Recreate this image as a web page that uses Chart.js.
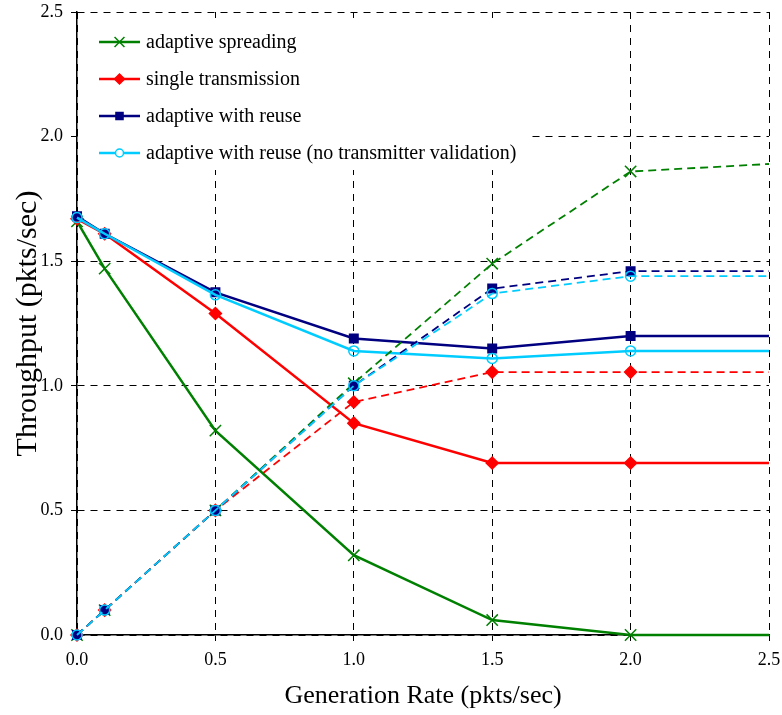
<!DOCTYPE html>
<html>
<head>
<meta charset="utf-8">
<title>Throughput vs generation rate</title>
<script src="https://cdn.jsdelivr.net/npm/chart.js@4.4.0/dist/chart.umd.min.js"></script>
<style>
    html, body { margin: 0; padding: 0; background: #fff; }
    #wrap { position: relative; width: 782px; height: 715px; }
</style>
</head>
<body>
<div id="wrap"><canvas id="rateChart"></canvas></div>
<script>
// --- data
var rates = [0, 0.1, 0.5, 1.0, 1.5, 2.0, 2.5];
var axisTicks = [0, 0.5, 1.0, 1.5, 2.0, 2.5];

var spreadingSolid = [1.66, 1.47, 0.82, 0.32, 0.06, 0.0, 0.0];
var spreadingDashed = [0.0, 0.1, 0.5, 1.01, 1.49, 1.86, 1.89];
var singleSolid = [1.67, 1.61, 1.29, 0.85, 0.69, 0.69, 0.69];
var singleDashed = [0.0, 0.1, 0.5, 0.935, 1.055, 1.055, 1.055];
var reuseSolid = [1.68, 1.61, 1.375, 1.19, 1.15, 1.20, 1.20];
var reuseDashed = [0.0, 0.1, 0.5, 1.0, 1.39, 1.46, 1.46];
var noValSolid = [1.675, 1.61, 1.365, 1.14, 1.11, 1.14, 1.14];
var noValDashed = [0.0, 0.1, 0.5, 1.0, 1.37, 1.44, 1.44];

var seriesNames = ['adaptive spreading', 'single transmission', 'adaptive with reuse',
    'adaptive with reuse (no transmitter validation)'];

// --- styles
var styles = [
    { color: '#008000', fill: 'rgba(0,0,0,0)', marker: 'crossRot', radius: 8 },
    { color: '#ff0000', fill: '#ff0000', marker: 'rectRot', radius: 6 },
    { color: '#000080', fill: '#000080', marker: 'rect', radius: 6 },
    { color: '#00ccff', fill: 'rgba(0,0,0,0)', marker: 'circle', radius: 5 }
];

Chart.defaults.font.family = '"Liberation Serif", "Times New Roman", serif';
Chart.defaults.color = '#000';

function toPoints(values) {
    return values.map(function (v, i) { return { x: rates[i], y: v }; });
}

function makeSet(name, values, style, dashed) {
    var last = values.length - 1;
    return {
        label: name,
        data: toPoints(values),
        showLine: true,
        tension: 0,
        clip: false,
        borderColor: style.color,
        backgroundColor: style.fill,
        borderWidth: dashed ? 1.8 : 2.5,
        borderDash: dashed ? [8, 5] : [],
        pointStyle: style.marker,
        pointRadius: function (ctx) { return ctx.dataIndex === last ? 0 : style.radius; },
        pointHoverRadius: style.radius,
        pointBorderColor: style.color,
        pointBackgroundColor: style.fill,
        pointBorderWidth: 1.5
    };
}

// dataset 0 is drawn on top, so the list goes top -> bottom
var datasets = [
    makeSet(seriesNames[3], noValDashed, styles[3], true),
    makeSet(seriesNames[2], reuseDashed, styles[2], true),
    makeSet(seriesNames[1], singleDashed, styles[1], true),
    makeSet(seriesNames[0], spreadingDashed, styles[0], true),
    makeSet(seriesNames[3], noValSolid, styles[3], false),
    makeSet(seriesNames[2], reuseSolid, styles[2], false),
    makeSet(seriesNames[1], singleSolid, styles[1], false),
    makeSet(seriesNames[0], spreadingSolid, styles[0], false)
];

// legend inside the plot, white box over the grid
var insideLegend = {
    id: 'insideLegend',
    afterDatasetsDraw: function (chart) {
        var ctx = chart.ctx;
        var area = chart.chartArea;
        ctx.save();
        ctx.setLineDash([]);
        ctx.fillStyle = '#fff';
        ctx.fillRect(area.left + 1, area.top + 6, 450, 152);
        ctx.font = '20px "Liberation Serif"';
        ctx.textBaseline = 'middle';
        seriesNames.forEach(function (name, i) {
            var st = styles[i];
            var y = area.top + 30 + i * 37;
            ctx.strokeStyle = st.color;
            ctx.lineWidth = 2.5;
            ctx.beginPath();
            ctx.moveTo(area.left + 22, y);
            ctx.lineTo(area.left + 63, y);
            ctx.stroke();
            ctx.fillStyle = st.fill === 'rgba(0,0,0,0)' ? '#fff' : st.fill;
            ctx.lineWidth = 1.5;
            Chart.helpers.drawPoint(ctx, {
                pointStyle: st.marker, radius: st.radius - 1, rotation: 0, borderWidth: 1.5
            }, area.left + 42.5, y);
            ctx.fillStyle = '#000';
            ctx.fillText(name, area.left + 69, y + 1);
        });
        ctx.restore();
    }
};

function axisOptions(title, titleSize, titlePad) {
    return {
        type: 'linear',
        min: 0,
        max: 2.5,
        afterBuildTicks: function (scale) {
            scale.ticks = axisTicks.map(function (v) { return { value: v }; });
        },
        ticks: {
            font: { size: 18 },
            padding: 8,
            callback: function (v) { return Number(v).toFixed(1); }
        },
        grid: {
            color: '#000',
            lineWidth: 1,
            tickLength: 6,
            tickColor: '#000'
        },
        border: { display: true, color: '#000', width: 1.5, dash: [7, 6] },
        title: { display: true, text: title, font: { size: titleSize }, padding: titlePad }
    };
}

var xAxis = axisOptions('Generation Rate (pkts/sec)', 26, { top: 0, bottom: 3 });
xAxis.afterFit = function (scale) {
    scale.height = 80;
    scale.paddingLeft = 0;
    scale.paddingRight = 0;
};
var yAxis = axisOptions('Throughput (pkts/sec)', 30, { top: 10, bottom: 0 });
yAxis.afterFit = function (scale) {
    scale.width = 77;
    scale.paddingTop = 0;
    scale.paddingBottom = 0;
};

new Chart(document.getElementById('rateChart'), {
    type: 'scatter',
    data: { datasets: datasets },
    options: {
        responsive: true,
        maintainAspectRatio: false,
        animation: false,
        layout: { padding: { top: 12, right: 13, left: 0, bottom: 0 } },
        plugins: {
            legend: { display: false },
            tooltip: { enabled: false }
        },
        scales: { x: xAxis, y: yAxis }
    },
    plugins: [insideLegend]
});
</script>
</body>
</html>
